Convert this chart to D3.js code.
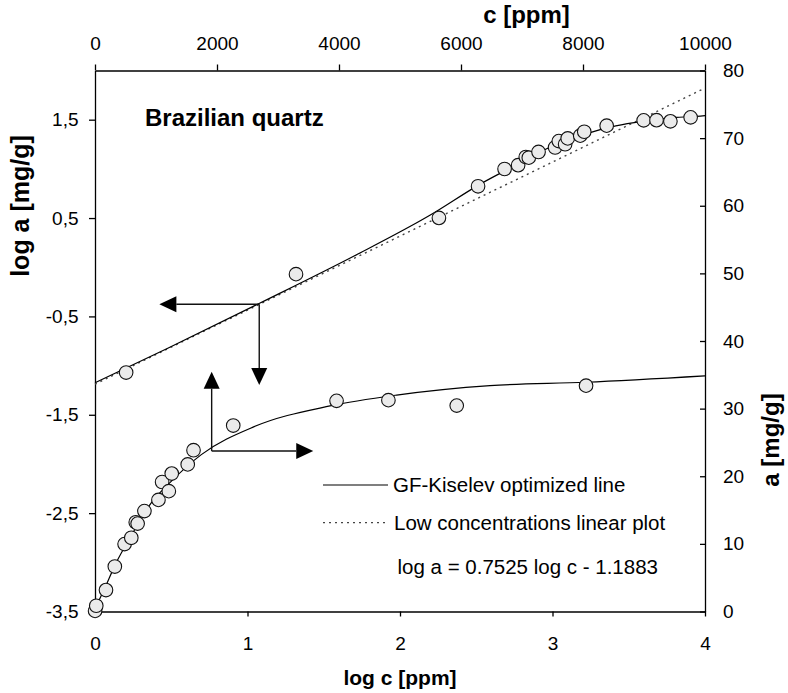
<!DOCTYPE html>
<html>
<head>
<meta charset="utf-8">
<script src="https://cdn.jsdelivr.net/npm/d3@7"></script>
<style>
  body { margin: 0; background: #fff; }
  svg { display: block; font-family: "Liberation Sans", Arial, sans-serif; }
  .axis path, .axis line { stroke: #000; stroke-width: 1.3; }
  .axis text { font-size: 19px; fill: #000; font-family: "Liberation Sans", Arial, sans-serif; }
</style>
</head>
<body>
<svg id="grafica" width="788" height="693"></svg>
<script>
// measured points, c [ppm] and a [mg/g]
const conc = [1.6, 20.8, 180, 325, 485, 595, 668, 699, 810, 1040, 1100, 1210, 1258, 1520, 1615, 2266, 3960, 4810, 5930, 8050];
const ads  = [0.085, 0.85, 3.17, 6.65, 9.97, 10.9, 13.2, 13.0, 14.85, 16.5, 19.15, 17.8, 20.4, 21.75, 23.85, 27.5, 31.15, 31.25, 30.45, 33.4];

// GF-Kiselev optimized line
const fitC = [0, 1, 3, 12, 50, 157, 340, 600, 916, 1200, 1743, 2600, 3852, 4945, 6475, 8049, 10000];
const fitA = [0, 0.067, 0.15, 0.43, 1.3, 3.37, 7.08, 11.3, 16.0, 18.8, 23.2, 27.3, 30.4, 32.0, 33.4, 33.9, 34.85];

// low concentrations linear plot (log a = 0.7525 log c - 1.1883), end points
const linC = [1, 10000];
const linA = [0.0648, 66.33];

// ticks
const logCTicks = [0, 1, 2, 3, 4];
const logATicks = [1.5, 0.5, -0.5, -1.5, -2.5, -3.5];
const cTicks = [0, 2000, 4000, 6000, 8000, 10000];
const aTicks = [0, 10, 20, 30, 40, 50, 60, 70, 80];

const svg = d3.select('#grafica');

const izq = 95, der = 705, arriba = 70.5, abajo = 611.5;

const xLog = d3.scaleLog().domain([1, 1e4]).range([izq, der]);
const yLog = d3.scaleLog().domain([Math.pow(10, -3.5), 100]).range([abajo, arriba]);
const xLin = d3.scaleLinear().domain([0, 10000]).range([izq, der]);
const yLin = d3.scaleLinear().domain([0, 80]).range([abajo, arriba]);

const lx = v => xLog(Math.pow(10, v));
const ly = v => yLog(Math.pow(10, v));

// axes
svg.append('g').attr('class', 'axis')
  .attr('transform', `translate(0,${abajo})`)
  .call(d3.axisBottom(xLog)
    .tickValues(logCTicks.map(v => Math.pow(10, v)))
    .tickFormat(d => String(Math.round(Math.log10(d))))
    .tickSize(5).tickSizeOuter(0).tickPadding(19.6));

svg.append('g').attr('class', 'axis')
  .attr('transform', `translate(${izq},0)`)
  .call(d3.axisLeft(yLog)
    .tickValues(logATicks.map(v => Math.pow(10, v)))
    .tickFormat(d => Math.log10(d).toFixed(1).replace('.', ','))
    .tickSize(6).tickSizeOuter(0).tickPadding(10.5));

svg.append('g').attr('class', 'axis')
  .attr('transform', `translate(0,${arriba})`)
  .call(d3.axisTop(xLin)
    .tickValues(cTicks)
    .tickFormat(d => String(d))
    .tickSize(6).tickSizeOuter(0).tickPadding(14.5));

svg.append('g').attr('class', 'axis')
  .attr('transform', `translate(${der},0)`)
  .call(d3.axisRight(yLin)
    .tickValues(aTicks)
    .tickSize(-5).tickSizeOuter(0).tickPadding(18));

// axis titles
svg.append('text').attr('x', 526.5).attr('y', 22.5).attr('text-anchor', 'middle')
  .style('font-size', '24px').style('font-weight', 'bold').text('c [ppm]');
svg.append('text').attr('x', 400).attr('y', 685).attr('text-anchor', 'middle')
  .style('font-size', '21px').style('font-weight', 'bold').text('log c [ppm]');
svg.append('text').attr('transform', 'translate(29,206) rotate(-90)').attr('text-anchor', 'middle')
  .style('font-size', '25px').style('font-weight', 'bold').text('log a [mg/g]');
svg.append('text').attr('transform', 'translate(779,440) rotate(-90)').attr('text-anchor', 'middle')
  .style('font-size', '24px').style('font-weight', 'bold').text('a [mg/g]');

svg.append('text').attr('x', 145).attr('y', 125.5)
  .style('font-size', '24px').style('font-weight', 'bold').text('Brazilian quartz');

// lines
const ajuste = fitC.map((c, i) => [c, fitA[i]]);

const lineaLog = d3.line()
  .x(d => xLog(d[0])).y(d => yLog(d[1]))
  .curve(d3.curveMonotoneX);
const lineaLin = d3.line()
  .x(d => xLin(d[0])).y(d => yLin(d[1]))
  .curve(d3.curveMonotoneX);

svg.append('path')
  .datum(linC.map((c, i) => [c, linA[i]]))
  .attr('d', d3.line().x(d => xLog(d[0])).y(d => yLog(d[1])))
  .attr('fill', 'none').attr('stroke', '#444')
  .attr('stroke-width', 1.4).attr('stroke-dasharray', '2,4');

svg.append('path')
  .datum(ajuste.filter(d => d[0] > 0))
  .attr('d', lineaLog)
  .attr('fill', 'none').attr('stroke', '#000').attr('stroke-width', 1.2);

svg.append('path')
  .datum(ajuste)
  .attr('d', lineaLin)
  .attr('fill', 'none').attr('stroke', '#000').attr('stroke-width', 1.2);

// arrows, in log units
const flechas = [
  { x0: 1.077, y0: -0.376, x1: 0.422, y1: -0.376 },
  { x0: 1.077, y0: -0.376, x1: 1.077, y1: -1.198 },
  { x0: 0.765, y0: -1.868, x1: 0.765, y1: -1.063 },
  { x0: 0.765, y0: -1.868, x1: 1.431, y1: -1.868 }
];

flechas.forEach(f => {
  const ax = lx(f.x0), ay = ly(f.y0), bx = lx(f.x1), by = ly(f.y1);
  const len = Math.hypot(bx - ax, by - ay);
  const ux = (bx - ax) / len, uy = (by - ay) / len;
  const cabeza = 17, ancho = 8;
  const cx = bx - ux * cabeza, cy = by - uy * cabeza;
  svg.append('line')
    .attr('x1', ax).attr('y1', ay).attr('x2', cx).attr('y2', cy)
    .attr('stroke', '#111').attr('stroke-width', 1.4);
  svg.append('path')
    .attr('d', `M${bx},${by}L${cx - uy * ancho},${cy + ux * ancho}L${cx + uy * ancho},${cy - ux * ancho}Z`)
    .attr('fill', '#000');
});

// points
const puntos = conc.map((c, i) => [c, ads[i]]);

svg.append('g').selectAll('circle')
  .data(puntos)
  .join('circle')
  .attr('cx', d => xLog(d[0])).attr('cy', d => yLog(d[1]))
  .attr('r', 6.8).attr('fill', '#ebebeb').attr('stroke', '#111').attr('stroke-width', 1.1);

svg.append('g').selectAll('circle')
  .data(puntos)
  .join('circle')
  .attr('cx', d => xLin(d[0])).attr('cy', d => yLin(d[1]))
  .attr('r', 6.8).attr('fill', '#ebebeb').attr('stroke', '#111').attr('stroke-width', 1.1);

// legend
const leyenda = svg.append('g').style('font-size', '20.5px');
leyenda.append('line').attr('x1', 323).attr('x2', 388).attr('y1', 485).attr('y2', 485)
  .attr('stroke', '#000').attr('stroke-width', 1.2);
leyenda.append('text').attr('x', 393).attr('y', 492.3).text('GF-Kiselev optimized line');
leyenda.append('line').attr('x1', 323).attr('x2', 388).attr('y1', 522.7).attr('y2', 522.7)
  .attr('stroke', '#444').attr('stroke-width', 1.2).attr('stroke-dasharray', '2,4');
leyenda.append('text').attr('x', 394).attr('y', 530).text('Low concentrations linear plot');
leyenda.append('text').attr('x', 397.5).attr('y', 574).text('log a = 0.7525 log c - 1.1883');
</script>
</body>
</html>
